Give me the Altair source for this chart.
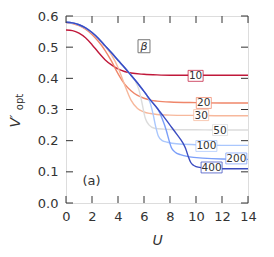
import altair as alt
import pandas as pd

# ---------------- data ----------------
betas = ["10", "20", "30", "50", "100", "200", "400"]
colors = ["#c0183a", "#ef866a", "#f7b89c", "#dcdcdc", "#aac7fd", "#7b9ff9", "#3b4cc0"]

U_10 = [0, 0.5, 1, 1.5, 2, 2.5, 3, 3.5, 4, 4.5, 5, 6, 7, 8, 10, 12, 14]
V_10 = [0.555, 0.553, 0.545, 0.530, 0.508, 0.483, 0.460, 0.443, 0.430, 0.422, 0.417,
        0.413, 0.411, 0.410, 0.410, 0.410, 0.410]

U_20 = [0, 0.5, 1, 1.5, 2, 2.5, 3, 3.5, 4, 4.5, 5, 5.5, 6, 6.5, 7, 8, 10, 12, 14]
V_20 = [0.579, 0.576, 0.569, 0.558, 0.541, 0.518, 0.490, 0.455, 0.415, 0.382, 0.360,
        0.345, 0.336, 0.330, 0.327, 0.324, 0.322, 0.321, 0.321]

U_30 = [0, 0.5, 1, 1.5, 2, 2.5, 3, 3.5, 4, 4.5, 5, 5.5, 6, 6.5, 7, 8, 10, 12, 14]
V_30 = [0.580, 0.577, 0.571, 0.561, 0.546, 0.527, 0.503, 0.475, 0.435, 0.380, 0.330,
        0.303, 0.292, 0.287, 0.284, 0.282, 0.281, 0.280, 0.280]

U_50 = [0, 0.5, 1, 1.5, 2, 2.5, 3, 3.5, 4, 4.5, 5, 5.3, 5.6, 5.85, 6.1, 6.4, 6.8,
        7.5, 8, 10, 12, 14]
V_50 = [0.580, 0.578, 0.572, 0.562, 0.547, 0.528, 0.505, 0.482, 0.458, 0.435, 0.410,
        0.393, 0.365, 0.320, 0.272, 0.250, 0.240, 0.237, 0.236, 0.235, 0.234, 0.234]

U_100 = [0, 0.5, 1, 1.5, 2, 2.5, 3, 3.5, 4, 4.5, 5, 5.5, 6, 6.2, 6.5, 6.7, 6.9, 7.1,
         7.4, 7.8, 8.5, 10, 12, 14]
V_100 = [0.580, 0.578, 0.572, 0.562, 0.547, 0.528, 0.505, 0.482, 0.458, 0.435, 0.410,
         0.385, 0.358, 0.347, 0.318, 0.285, 0.245, 0.215, 0.200, 0.195, 0.190, 0.187,
         0.185, 0.185]

U_200 = [0, 0.5, 1, 1.5, 2, 2.5, 3, 3.5, 4, 4.5, 5, 5.5, 6, 6.5, 7, 7.1, 7.4, 7.7,
         7.9, 8.1, 8.4, 8.8, 9.5, 10.5, 12, 14]
V_200 = [0.580, 0.578, 0.572, 0.562, 0.547, 0.528, 0.505, 0.482, 0.458, 0.435, 0.410,
         0.385, 0.358, 0.330, 0.305, 0.299, 0.270, 0.235, 0.205, 0.178, 0.163, 0.155,
         0.148, 0.144, 0.141, 0.140]

U_400 = [0, 0.5, 1, 1.5, 2, 2.5, 3, 3.5, 4, 4.5, 5, 5.5, 6, 6.5, 7, 7.5, 8, 8.5, 9,
         9.2, 9.4, 9.6, 9.8, 10, 10.5, 11, 12, 14]
V_400 = [0.580, 0.578, 0.572, 0.562, 0.547, 0.528, 0.505, 0.482, 0.458, 0.435, 0.410,
         0.385, 0.358, 0.330, 0.305, 0.278, 0.250, 0.222, 0.192, 0.175, 0.150, 0.130,
         0.121, 0.117, 0.113, 0.111, 0.110, 0.110]

series_U = [U_10, U_20, U_30, U_50, U_100, U_200, U_400]
series_V = [V_10, V_20, V_30, V_50, V_100, V_200, V_400]

# in-line labels (β value) : position on the chart
label_U = [9.97, 10.6, 10.4, 11.85, 10.8, 13.1, 11.2]
label_V = [0.408, 0.321, 0.282, 0.234, 0.183, 0.143, 0.114]

beta_label_U = [6.0]
beta_label_V = [0.503]
panel_label = ["(a)"]
panel_U = [1.97]
panel_V = [0.07]

x_ticks = [0, 2, 4, 6, 8, 10, 12, 14]
y_ticks = [0.0, 0.1, 0.2, 0.3, 0.4, 0.5, 0.6]

# ---------------- chart ----------------
W, H = 182, 187
FONT = "DejaVu Sans"
TXT = "#333333"
TICK_LEN = 7

x_scale = alt.Scale(domain=[0, 14], nice=False, zero=False)
y_scale = alt.Scale(domain=[0, 0.6], nice=False, zero=False)

x_axis = alt.Axis(values=x_ticks, ticks=False, domain=False, grid=False, labelFlush=False,
                  labelFont=FONT, labelFontSize=13, labelColor=TXT, labelPadding=7,
                  title="U", titleFont=FONT, titleFontSize=14, titleFontStyle="italic",
                  titleFontWeight="normal", titleColor=TXT, titlePadding=10)
y_axis = alt.Axis(values=y_ticks, format=".1f", ticks=False, domain=False, grid=False,
                  labelFlush=False, labelFont=FONT, labelFontSize=13, labelColor=TXT,
                  labelPadding=8, title=None)

X = alt.X("U:Q", scale=x_scale, axis=x_axis)
Y = alt.Y("V:Q", scale=y_scale, axis=y_axis)

layers = []
for b, us, vs, c in zip(betas, series_U, series_V, colors):
    d = pd.DataFrame({"U": us, "V": vs})
    layers.append(
        alt.Chart(d).mark_line(color=c, strokeWidth=1.4, interpolate="monotone")
        .encode(x=X, y=Y)
    )

lab = pd.DataFrame({"U": label_U, "V": label_V, "t": betas, "c": colors})
lab2 = lab[lab["t"].str.len() == 2]
lab3 = lab[lab["t"].str.len() == 3]

box2 = alt.Chart(lab2).mark_point(
    shape="M-1,-0.73L1,-0.73L1,0.73L-1,0.73Z", size=225, fill="white",
    fillOpacity=1, strokeWidth=1, strokeOpacity=0.75, opacity=1
).encode(x=X, y=Y, stroke=alt.Stroke("c:N", scale=None))
box3 = alt.Chart(lab3).mark_point(
    shape="M-1,-0.52L1,-0.52L1,0.52L-1,0.52Z", size=441, fill="white",
    fillOpacity=1, strokeWidth=1, strokeOpacity=0.75, opacity=1
).encode(x=X, y=Y, stroke=alt.Stroke("c:N", scale=None))
lab_text = alt.Chart(lab).mark_text(
    font=FONT, fontSize=10.5, color=TXT, align="center", baseline="middle", dy=0.5
).encode(x=X, y=Y, text="t:N")

bdf = pd.DataFrame({"U": beta_label_U, "V": beta_label_V, "t": ["β"]})
beta_box = alt.Chart(bdf).mark_point(
    shape="M-0.92,-1L0.92,-1L0.92,1L-0.92,1Z", size=169, fill="white",
    fillOpacity=1, stroke="#777777", strokeWidth=1, opacity=1
).encode(x=X, y=Y)
beta_text = alt.Chart(bdf).mark_text(
    font=FONT, fontSize=11, fontStyle="italic", color=TXT, align="center",
    baseline="middle", dy=0.5
).encode(x=X, y=Y, text="t:N")

pdf = pd.DataFrame({"U": panel_U, "V": panel_V, "t": panel_label})
panel_text = alt.Chart(pdf).mark_text(
    font=FONT, fontSize=13, color=TXT, align="center", baseline="middle"
).encode(x=X, y=Y, text="t:N")

# inward ticks on all four sides
xt = pd.DataFrame({"U": x_ticks})
yt = pd.DataFrame({"V": y_ticks})
tick_style = dict(color=TXT, strokeWidth=1)
t_bottom = alt.Chart(xt).mark_rule(**tick_style).encode(
    x=X, y=alt.value(H), y2=alt.value(H - TICK_LEN))
t_top = alt.Chart(xt).mark_rule(**tick_style).encode(
    x=X, y=alt.value(0), y2=alt.value(TICK_LEN))
t_left = alt.Chart(yt).mark_rule(**tick_style).encode(
    y=Y, x=alt.value(0), x2=alt.value(TICK_LEN))
t_right = alt.Chart(yt).mark_rule(**tick_style).encode(
    y=Y, x=alt.value(W), x2=alt.value(W - TICK_LEN))

# y-axis title V'_opt
tdf = pd.DataFrame({"t": ["V′"]})
odf = pd.DataFrame({"t": ["opt"]})
ytitle_v = alt.Chart(tdf).mark_text(
    font=FONT, fontSize=14, fontStyle="italic", color=TXT, angle=270,
    align="center", baseline="alphabetic"
).encode(x=alt.value(-46.5), y=alt.value(105), text="t:N")
ytitle_o = alt.Chart(odf).mark_text(
    font=FONT, fontSize=10, color=TXT, angle=270, align="center",
    baseline="alphabetic"
).encode(x=alt.value(-43.5), y=alt.value(86), text="t:N")

chart = alt.layer(
    *layers, box2, box3, lab_text, beta_box, beta_text, panel_text,
    t_bottom, t_top, t_left, t_right, ytitle_v, ytitle_o
).properties(
    width=W, height=H,
    autosize=alt.AutoSizeParams(type="none"),
    padding={"left": 58, "top": 8, "right": 18, "bottom": 46},
).configure_view(
    stroke="#333333", strokeWidth=1.2
).configure(background="white")

chart.save("out.html", embed_options={"renderer": "svg", "actions": False})
